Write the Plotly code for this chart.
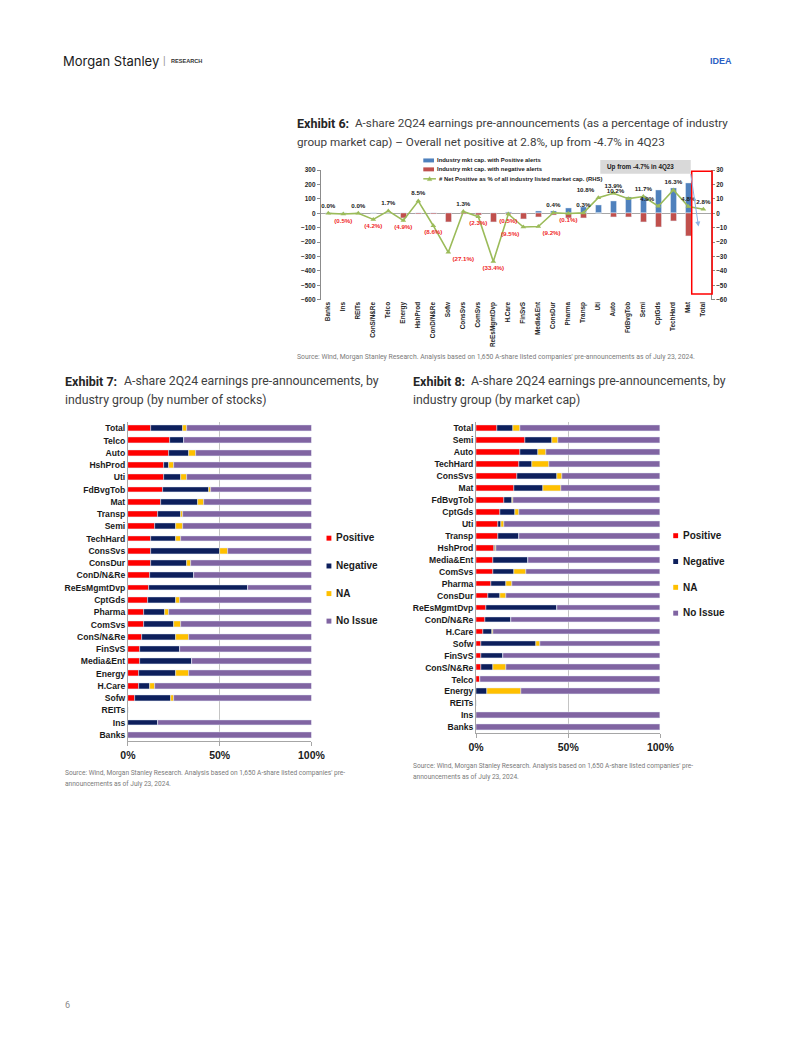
import plotly.graph_objects as go

# ---------------- DATA ----------------
cats6 = ["Banks", "Ins", "REITs", "ConS/N&Re", "Telco", "Energy", "HshProd", "ConD/N&Re", "Sofw",
         "ConsSvs", "ComSvs", "ReEsMgmtDvp", "H.Care", "FinSvS", "Media&Ent", "ConsDur", "Pharma",
         "Transp", "Uti", "Auto", "FdBvgTob", "Semi", "CptGds", "TechHard", "Mat", "Total"]
pos6 = [0, 0, 0, 0, 0, 0, 3, 2, 0, 2, 4, 4, 5, 4, 16, 18, 37, 41, 58, 85, 110, 120, 161, 177, 207, None]
neg6 = [0, 0, 0, 0, 0, -35, -4, -8, -64, -3, -10, -58, -8, -37, -28, -10, -35, -35, -1, -30, -30, -58, -97, -51, -156, None]
net6 = [0.0, -0.5, 0.0, -4.2, 1.7, -4.9, 8.5, -8.6, -27.1, 1.3, -2.3, -33.4, -0.5, -9.5, -9.2, 0.4, -0.1,
        0.3, 10.8, 13.9, 10.2, 11.7, 4.9, 16.3, 4.8, 2.8]

cats7 = ["Total", "Telco", "Auto", "HshProd", "Uti", "FdBvgTob", "Mat", "Transp", "Semi", "TechHard",
         "ConsSvs", "ConsDur", "ConD/N&Re", "ReEsMgmtDvp", "CptGds", "Pharma", "ComSvs", "ConS/N&Re",
         "FinSvS", "Media&Ent", "Energy", "H.Care", "Sofw", "REITs", "Ins", "Banks"]
pos7 = [12.7, 23.0, 22.6, 19.6, 19.4, 19.3, 18.2, 16.4, 14.5, 12.7, 12.7, 12.5, 12.2, 11.5, 11.0, 8.5, 8.7,
        7.4, 6.7, 6.7, 6.0, 5.8, 3.9, 0, 0, 0]
neg7 = [17.3, 7.6, 10.6, 2.7, 9.4, 24.7, 20.0, 12.7, 11.5, 13.6, 37.3, 19.8, 23.5, 53.9, 15.2, 11.8, 16.4,
        18.6, 21.6, 28.1, 20.1, 6.4, 19.6, 0, 16.4, 0]
na7 = [2.3, 0, 4.0, 2.8, 3.4, 1.4, 3.2, 0.9, 4.2, 2.8, 4.4, 2.1, 0, 0, 2.1, 1.8, 3.9, 7.4, 0, 0, 7.2, 2.3,
       1.6, 0, 0, 0]
noiss7 = [67.7, 69.4, 62.8, 74.9, 67.8, 54.6, 58.6, 70.0, 69.8, 70.9, 45.6, 65.6, 64.3, 34.6, 71.7, 77.9,
          71.0, 66.6, 71.7, 65.2, 66.7, 85.5, 74.9, 0, 83.6, 100]

cats8 = ["Total", "Semi", "Auto", "TechHard", "ConsSvs", "Mat", "FdBvgTob", "CptGds", "Uti", "Transp",
         "HshProd", "Media&Ent", "ComSvs", "Pharma", "ConsDur", "ReEsMgmtDvp", "ConD/N&Re", "H.Care",
         "Sofw", "FinSvS", "ConS/N&Re", "Telco", "Energy", "REITs", "Ins", "Banks"]
pos8 = [11.4, 26.8, 23.8, 23.6, 22.5, 20.6, 15.0, 13.0, 12.1, 11.8, 9.7, 9.2, 9.2, 8.3, 6.5, 5.5, 5.1, 3.9,
        2.8, 2.8, 2.6, 2.3, 0.2, 0, 0, 0]
neg8 = [8.5, 14.6, 10.0, 7.0, 21.3, 15.8, 4.8, 7.9, 1.2, 11.6, 0.7, 18.8, 11.6, 7.9, 6.3, 38.6, 13.7, 4.6,
        29.9, 12.1, 6.5, 0, 5.6, 0, 0, 0]
na8 = [4.0, 3.2, 4.0, 9.2, 3.0, 9.5, 0.5, 2.5, 2.1, 0, 0.3, 0, 6.2, 3.2, 3.3, 0, 0, 0.9, 1.8, 0, 7.2, 0,
       18.5, 0, 0, 0]
noiss8 = [76.1, 55.4, 62.2, 60.2, 53.2, 54.1, 79.7, 76.6, 84.6, 76.6, 89.3, 72.0, 73.0, 80.6, 83.9, 55.9,
          81.2, 90.6, 65.5, 85.1, 83.7, 97.7, 75.7, 0, 100, 100]

pct_ticks = [0, 50, 100]
pct_labels = ["0%", "50%", "100%"]

# ---------------- HELPERS ----------------
W, H = 802, 1037
def px(x): return x / W
def py(y): return 1 - y / H

ARIAL = "Liberation Sans, Arial, sans-serif"
BODY = "Roboto, Liberation Sans, sans-serif"

C_BLUE, C_RED6, C_GREEN = "#4F81BD", "#C0504D", "#9BBB59"
C_POS, C_NEG, C_NA, C_NI = "#FF0000", "#0D1F5C", "#FFC000", "#8064A2"

fig = go.Figure()

# ---------------- EXHIBIT 6 ----------------
fig.add_trace(go.Bar(x=cats6, y=pos6, marker_color=C_BLUE, width=0.4, xaxis="x", yaxis="y",
                     showlegend=False, name="Industry mkt cap. with Positive alerts"))
fig.add_trace(go.Bar(x=cats6, y=neg6, marker_color=C_RED6, width=0.4, xaxis="x", yaxis="y",
                     showlegend=False, name="Industry mkt cap. with negative alerts"))

lbl6 = [f"{v:.1f}%" if v >= 0 else f"({-v:.1f}%)" for v in net6]
col6 = ["#1a1a1a" if v >= 0 else "#F02828" for v in net6]
tpos = {"Sofw": "bottom right", "CptGds": "top left", "Uti": "top left", "FdBvgTob": "top left",
        "Media&Ent": "bottom right", "FinSvS": "bottom left"}
pos_list = [tpos.get(c, "top center" if v >= 0 else "bottom center") for c, v in zip(cats6, net6)]
fig.add_trace(go.Scatter(x=cats6, y=net6, xaxis="x", yaxis="y2", mode="lines+markers+text",
                         line=dict(color=C_GREEN, width=1.6),
                         marker=dict(symbol="triangle-up", size=5, color=C_GREEN),
                         text=lbl6, textposition=pos_list,
                         textfont=dict(family=ARIAL, size=6.2, color=col6, weight="bold"),
                         showlegend=False, cliponaxis=False,
                         name="# Net Positive as % of all industry listed market cap. (RHS)"))

# ---------------- EXHIBIT 7 ----------------
for vals, col, nm in [(pos7, C_POS, "Positive"), (neg7, C_NEG, "Negative"),
                      (na7, C_NA, "NA"), (noiss7, C_NI, "No Issue")]:
    fig.add_trace(go.Bar(y=cats7, x=vals, orientation="h", marker_color=col, width=0.48,
                         xaxis="x2", yaxis="y3", showlegend=False, name=nm))

# ---------------- EXHIBIT 8 ----------------
for vals, col, nm in [(pos8, C_POS, "Positive"), (neg8, C_NEG, "Negative"),
                      (na8, C_NA, "NA"), (noiss8, C_NI, "No Issue")]:
    fig.add_trace(go.Bar(y=cats8, x=vals, orientation="h", marker_color=col, width=0.48,
                         xaxis="x3", yaxis="y4", showlegend=False, name=nm))

small_tick = dict(family=ARIAL, size=6.4, color="#262626", weight="bold")
axis_col = "#8c8c8c"
n6, n7, n8 = len(cats6), len(cats7), len(cats8)

fig.update_layout(
    width=W, height=H, autosize=False,
    margin=dict(l=0, r=0, t=0, b=0),
    paper_bgcolor="white", plot_bgcolor="rgba(0,0,0,0)",
    barmode="relative", bargap=0,
    xaxis=dict(domain=[px(321.6), px(722.7)], anchor="y", type="category",
               categoryorder="array", categoryarray=cats6, range=[-0.5, n6 - 0.5], tickangle=-90,
               tickfont=small_tick, showline=False, ticks="", showgrid=False, zeroline=False),
    yaxis=dict(domain=[py(297.7), py(167.3)], anchor="x", range=[-600, 300], dtick=100,
               showline=True, linecolor=axis_col, linewidth=1, ticks="outside", ticklen=3,
               tickcolor=axis_col, tickfont=small_tick, showgrid=False,
               zeroline=True, zerolinecolor="#a6a6a6", zerolinewidth=1),
    yaxis2=dict(overlaying="y", side="right", anchor="x", range=[-60, 30], dtick=10,
                showline=True, linecolor=axis_col, linewidth=1, ticks="outside", ticklen=3,
                tickcolor=axis_col, tickfont=small_tick, showgrid=False, zeroline=False),
    xaxis2=dict(domain=[px(123.3), px(312)], anchor="y3", range=[0, 100],
                tickvals=pct_ticks, ticktext=pct_labels,
                tickfont=dict(family=ARIAL, size=10.5, color="#1a1a1a", weight="bold"),
                showgrid=True, gridcolor="#c4c4c4", gridwidth=1, showline=True, linecolor="#a6a6a6",
                ticks="outside", ticklen=4, tickcolor="#a6a6a6", zeroline=False),
    yaxis3=dict(domain=[py(742), py(421)], anchor="x2", type="category", categoryorder="array",
                categoryarray=cats7, range=[n7 - 0.5, -0.5], showline=True, linecolor="#a6a6a6",
                ticks="", tickfont=dict(family=ARIAL, size=8.6, color="#1a1a1a", weight="bold"),
                showgrid=False, zeroline=False),
    xaxis3=dict(domain=[px(481.3), px(670.7)], anchor="y4", range=[0, 100],
                tickvals=pct_ticks, ticktext=pct_labels,
                tickfont=dict(family=ARIAL, size=10.5, color="#1a1a1a", weight="bold"),
                showgrid=True, gridcolor="#c4c4c4", gridwidth=1, showline=True, linecolor="#a6a6a6",
                ticks="outside", ticklen=4, tickcolor="#a6a6a6", zeroline=False),
    yaxis4=dict(domain=[py(734.3), py(421)], anchor="x3", type="category", categoryorder="array",
                categoryarray=cats8, range=[n8 - 0.5, -0.5], showline=True, linecolor="#a6a6a6",
                ticks="", tickfont=dict(family=ARIAL, size=8.6, color="#1a1a1a", weight="bold"),
                showgrid=False, zeroline=False),
)

ann = []
shapes = []

def txt(x, y, s, size, color="#333333", family=BODY, bold=False, xanchor="left", yanchor="middle"):
    ann.append(dict(x=px(x), y=py(y), xref="paper", yref="paper", text=s, showarrow=False,
                    xanchor=xanchor, yanchor=yanchor,
                    font=dict(family=family, size=size, color=color, weight="bold" if bold else "normal")))

def rect(x0, y0, x1, y1, fill=None, line=None, lw=0):
    shapes.append(dict(type="rect", xref="paper", yref="paper", x0=px(x0), x1=px(x1), y0=py(y1), y1=py(y0),
                       fillcolor=fill if fill else "rgba(0,0,0,0)",
                       line=dict(color=line if line else "rgba(0,0,0,0)", width=lw)))

# header
txt(55, 57, "Morgan Stanley", 13, "#1a1a1a", family="Inter, Roboto, sans-serif")
txt(157.5, 57, "|", 10, "#9a9a9a", family=ARIAL)
txt(166, 57.5, "RESEARCH", 5.6, "#333333", family=ARIAL, bold=True)
txt(746, 57, "IDEA", 9, "#2B5FC4", family=ARIAL, bold=True, xanchor="right")
txt(57, 1008, "6", 9, "#8a8a8a", family=BODY)

# titles
TC = "#404040"
txt(295, 120, "Exhibit 6:", 12.5, "#262626", bold=True)
txt(355, 120, "A-share 2Q24 earnings pre-announcements (as a percentage of industry", 11.7, TC)
txt(295, 139, "group market cap) \u2013 Overall net positive at 2.8%, up from -4.7% in 4Q23", 11.7, TC)
txt(57, 380, "Exhibit 7:", 12.5, "#262626", bold=True)
txt(117, 380, "A-share 2Q24 earnings pre-announcements, by", 12.3, TC)
txt(57, 399, "industry group (by number of stocks)", 12.3, TC)
txt(414, 380, "Exhibit 8:", 12.5, "#262626", bold=True)
txt(474, 380, "A-share 2Q24 earnings pre-announcements, by", 12.3, TC)
txt(414, 399, "industry group (by market cap)", 12.3, TC)

# sources
SC = "#7a7a7a"
txt(295, 355, "Source: Wind, Morgan Stanley Research. Analysis based on 1,650 A-share listed companies' "
              "pre-announcements as of July 23, 2024.", 6.8, SC)
txt(57, 774, "Source: Wind, Morgan Stanley Research. Analysis based on 1,650 A-share listed companies' pre-", 6.6, SC)
txt(57, 785, "announcements as of July 23, 2024.", 6.6, SC)
txt(414, 767, "Source: Wind, Morgan Stanley Research. Analysis based on 1,650 A-share listed companies' pre-", 6.6, SC)
txt(414, 778, "announcements as of July 23, 2024.", 6.6, SC)

# exhibit 6 legend
rect(427, 155.5, 438, 159.5, fill=C_BLUE)
txt(439.5, 157.5, "Industry mkt cap. with Positive alerts", 5.9, "#1a1a1a", family=ARIAL, bold=True)
rect(427, 164.5, 438, 168.5, fill=C_RED6)
txt(439.5, 166.5, "Industry mkt cap. with negative alerts", 5.9, "#1a1a1a", family=ARIAL, bold=True)
shapes.append(dict(type="line", xref="paper", yref="paper", x0=px(427), x1=px(440), y0=py(176), y1=py(176),
                   line=dict(color=C_GREEN, width=1.5)))
shapes.append(dict(type="path", xref="paper", yref="paper",
                   path=f"M {px(431.2)} {py(177.8)} L {px(435.8)} {py(177.8)} L {px(433.5)} {py(173.8)} Z",
                   fillcolor=C_GREEN, line=dict(color=C_GREEN, width=0.5)))
txt(441, 176, "# Net Positive as % of all industry listed market cap. (RHS)", 5.9, "#1a1a1a",
    family=ARIAL, bold=True)

# exhibit 6 callout box, red frame and arrow
rect(609, 157, 702, 171, fill="#D9D9D9")
txt(614, 164, "Up from -4.7% in 4Q23", 6.3, "#1a1a1a", family=ARIAL, bold=True)
rect(703, 168.5, 724, 292, line="#FF0000", lw=1.5)
ann.append(dict(x=px(710), y=py(224), xref="paper", yref="paper", ax=-8, ay=-54, axref="pixel", ayref="pixel",
                text="", showarrow=True, arrowhead=2, arrowsize=1, arrowwidth=1, arrowcolor="#8EB4E3"))

# exhibit 7 / 8 legends
for (lx, ly_list) in [(330, [537.5, 565.5, 593.3, 621]), (686.5, [535, 561, 587, 613])]:
    for (yy, col, nm) in zip(ly_list, [C_POS, C_NEG, C_NA, C_NI], ["Positive", "Negative", "NA", "No Issue"]):
        rect(lx - 2.5, yy - 2.2, lx + 2.5, yy + 2.8, fill=col)
        txt(lx + 5, yy, nm, 10, "#1a1a1a", family=ARIAL, bold=True)

fig.update_layout(annotations=ann, shapes=shapes)
fig.write_html("out.html", config={"responsive": False, "displayModeBar": False},
               post_script="document.body.style.margin='0';document.body.style.overflow='hidden';")
